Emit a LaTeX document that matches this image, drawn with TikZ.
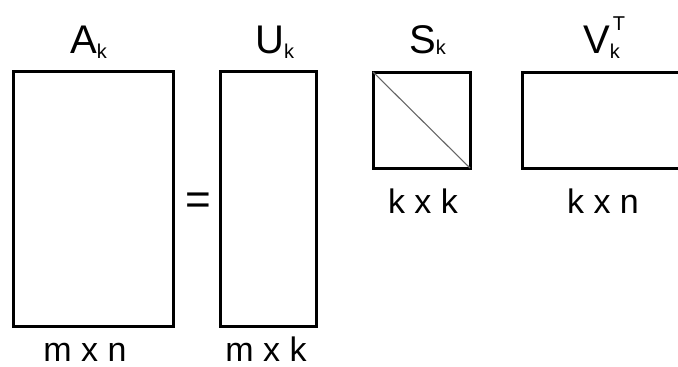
\documentclass[tikz,border=0pt]{standalone}
\usepackage{fontspec}
\setmainfont{Liberation Sans}
\begin{document}
\begin{tikzpicture}[x=1pt,y=-1pt,
  mat/.style={draw=black, line width=3pt, inner sep=0pt, outer sep=0pt, fill=white},
  ttl/.style={inner sep=0pt, anchor=base west, font=\fontsize{40}{40}\selectfont},
  dim/.style={inner sep=0pt, anchor=base, font=\fontsize{34}{34}\selectfont}]
\newcommand{\subk}[1]{{\fontsize{20}{20}\selectfont\raisebox{#1}{k}}}
\clip (0,0) rectangle (678,367);
\fill[white] (0,0) rectangle (678,367);
% matrices
\node[mat, minimum width=160pt, minimum height=255pt] (A) at (93,198.5) {};
\node[mat, minimum width=96pt, minimum height=255pt] (U) at (268,198.5) {};
\node[mat, minimum width=97pt, minimum height=96pt] (S) at (421.5,120) {};
\node[mat, minimum width=170pt, minimum height=96pt] (V) at (607,120) {};
\draw[line width=1.1pt, black!60] (S.north west) -- (S.south east);
% titles
\node[ttl] (tA) at (70,53) {A\subk{-5pt}};
\node[ttl] (tU) at (255,53) {U\subk{-5pt}};
\node[ttl] (tS) at (409,53) {S\subk{-1pt}};
\node[ttl] (tV) at (583,53) {V\makebox[0pt][l]{\hspace{3pt}\fontsize{20}{20}\selectfont\raisebox{23pt}{T}}\subk{-5pt}};
% equals
\node[inner sep=0pt, anchor=base, font=\fontsize{44}{44}\selectfont] (eq) at (198.5,214) {=};
% dimensions
\node[dim] (dA) at (85,361) {m x n};
\node[dim] (dU) at (266,361) {m x k};
\node[dim] (dS) at (423,213) {k x k};
\node[dim] (dV) at (603,213) {k x n};
\end{tikzpicture}
\end{document}
